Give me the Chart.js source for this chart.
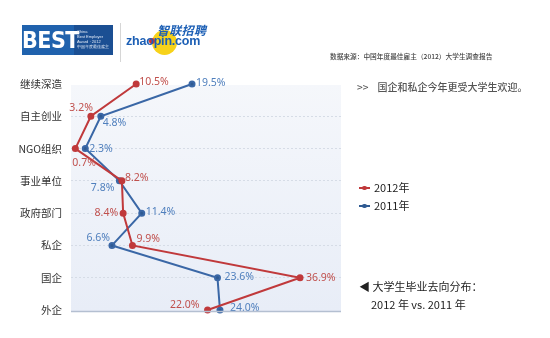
<!DOCTYPE html>
<html>
<head>
<meta charset="utf-8">
<script src="https://cdn.jsdelivr.net/npm/chart.js@4/dist/chart.umd.min.js"></script>
<style>
  body { margin: 0; background: #fff; }
  #wrap { position: relative; width: 550px; height: 338px; overflow: hidden; font-family: "Noto Sans CJK SC", "Noto Sans", sans-serif; }
  #gradChart { position: absolute; left: 0; top: 0; }
  .abs { position: absolute; white-space: nowrap; }
  .best { left: 22px; top: 25px; width: 91px; height: 30px; background: #1b4f93; }
  .best .word { position: absolute; left: 0; top: 0; width: 52px; height: 30px; background: #2062ad; color: #fff;
    font: bold 23px/30px "Liberation Sans Narrow", "DejaVu Sans Condensed", sans-serif; text-align: center; letter-spacing: -0.5px; }
  .best .small { position: absolute; left: 55px; top: 4px; color: #dfe8f5; font: 4px/5px "Liberation Sans", sans-serif; }
  .sep { left: 120px; top: 23px; width: 1px; height: 39px; background: #d6d6d6; }
  .dot { left: 152px; top: 30px; width: 25px; height: 25px; border-radius: 50%; background: #f7d21a; }
  .reddot { left: 149px; top: 38px; width: 6px; height: 6px; border-radius: 50%; background: #d9322c; }
  .zl { left: 157px; top: 23px; color: #1c5fb5; font: bold 12px/14px "Noto Sans CJK SC", sans-serif; font-style: italic; letter-spacing: 0.3px; }
  .zp { left: 126px; top: 34px; color: #1c5fb5; font: bold 12.5px/14px "Liberation Sans", sans-serif; letter-spacing: -0.2px; }
  .src { left: 330px; top: 52px; color: #444; font: 500 6.7px/9px "Noto Sans CJK SC", serif; }
  .note { left: 357px; top: 80px; color: #555; font: 500 10px/14px "Noto Sans CJK SC", sans-serif; }
  .leg { left: 359px; font: 11px/14px "Noto Sans CJK SC", sans-serif; color: #222; }
  .leg i { display: inline-block; position: relative; width: 11px; height: 1.5px; vertical-align: middle; margin-right: 4px; margin-top: -2px; }
  .leg i b { position: absolute; left: 3px; top: -1.5px; width: 4.5px; height: 4.5px; border-radius: 50%; background: inherit; }
  .cap { left: 359px; color: #222; font: 11px/14px "Noto Sans CJK SC", sans-serif; }
</style>
</head>
<body>
<div id="wrap">
  <canvas id="gradChart" width="550" height="338"></canvas>

  <div class="abs best">
    <div class="word">BEST</div>
    <div class="small">China<br>Best Employer<br>Award · 2012<br>中国年度最佳雇主</div>
  </div>
  <div class="abs sep"></div>
  <div class="abs dot"></div>
  <div class="abs reddot"></div>
  <div class="abs zl">智联招聘</div>
  <div class="abs zp">zhaopin.com</div>

  <div class="abs src">数据来源：中国年度最佳雇主（2012）大学生调查报告</div>
  <div class="abs note">&gt;&gt;&nbsp;&nbsp;&nbsp;&nbsp;国企和私企今年更受大学生欢迎。</div>

  <div class="abs leg" style="top:180px"><i style="background:#c0393b"><b></b></i>2012年</div>
  <div class="abs leg" style="top:198px"><i style="background:#2f5a92"><b></b></i>2011年</div>

  <div class="abs cap" style="top:279px">◀ 大学生毕业去向分布：</div>
  <div class="abs cap" style="top:297px; left:371px">2012 年 vs. 2011 年</div>
</div>

<script>
// graduate destinations, share in percent
const categories = ['继续深造', '自主创业', 'NGO组织', '事业单位', '政府部门', '私企', '国企', '外企'];
const values2012 = [10.5, 3.2, 0.7, 8.2, 8.4, 9.9, 36.9, 22.0];
const values2011 = [19.5, 4.8, 2.3, 7.8, 11.4, 6.6, 23.6, 24.0];

// where each value label sits relative to its point: [dx, dy, align]
const labelPos2012 = [[3, -2, 'left'], [2, -8, 'right'], [-3, 14, 'left'], [3, -3, 'left'],
                      [-5, 0, 'right'], [4, -6, 'left'], [6, 0, 'left'], [-8, -5, 'right']];
const labelPos2011 = [[4, -1, 'left'], [2, 7, 'left'], [4, 0, 'left'], [-5, 7, 'right'],
                      [4, -1, 'left'], [-2, -7, 'right'], [7, -1, 'left'], [10, -2, 'left']];

const plotBg = {
    id: 'plotBg',
    beforeDraw(chart) {
        const { ctx, chartArea: a } = chart;
        const g = ctx.createLinearGradient(0, a.top, 0, a.bottom);
        g.addColorStop(0, '#f5f7fb');
        g.addColorStop(1, '#e8edf7');
        ctx.save();
        ctx.fillStyle = g;
        ctx.fillRect(a.left, a.top + 1, a.right - a.left, a.bottom - a.top + 1);
        ctx.restore();
    },
    afterDraw(chart) {
        const { ctx, chartArea: a } = chart;
        ctx.save();
        ctx.strokeStyle = '#b4bfd1';
        ctx.lineWidth = 1.5;
        ctx.beginPath();
        ctx.moveTo(a.left, a.bottom + 1.5);
        ctx.lineTo(a.right, a.bottom + 1.5);
        ctx.stroke();
        ctx.restore();
    }
};

const valueLabels = {
    id: 'valueLabels',
    afterDatasetsDraw(chart) {
        const ctx = chart.ctx;
        ctx.save();
        ctx.font = '10.5px "Noto Sans", sans-serif';
        ctx.textBaseline = 'middle';
        chart.data.datasets.forEach((ds, i) => {
            const pos = i === 0 ? labelPos2012 : labelPos2011;
            ctx.fillStyle = ds.labelColor;
            chart.getDatasetMeta(i).data.forEach((pt, j) => {
                const [dx, dy, align] = pos[j];
                ctx.textAlign = align;
                ctx.fillText(ds.data[j].toFixed(1) + '%', pt.x + dx, pt.y + dy);
            });
        });
        ctx.restore();
    }
};

const ctx = document.getElementById('gradChart').getContext('2d');
const gradChart = new Chart(ctx, {
    type: 'line',
    data: {
        labels: categories,
        datasets: [
            { label: '2012年', data: values2012, borderColor: '#c0393b', backgroundColor: '#c0393b',
              labelColor: '#c0504d', borderWidth: 2, pointRadius: 2.5, tension: 0, clip: false },
            { label: '2011年', data: values2011, borderColor: '#3a67a6', backgroundColor: '#2f5a92',
              labelColor: '#4f7fbd', borderWidth: 2, pointRadius: 2.5, tension: 0, clip: false }
        ]
    },
    options: {
        indexAxis: 'y',
        responsive: false,
        animation: false,
        layout: { padding: { left: 0, right: 209, top: 84, bottom: 28 } },
        scales: {
            x: { type: 'linear', display: false, min: 0, max: 43.5 },
            y: {
                type: 'category',
                offset: false,
                afterFit(scale) { scale.width = 71; },
                border: { display: false, dash: [2, 2] },
                grid: {
                    drawTicks: false,
                    color: (c) => (c.index === 0 || c.index === categories.length - 1) ? 'rgba(0,0,0,0)' : '#d6dce6',
                    lineWidth: 1
                },
                ticks: {
                    padding: 9,
                    color: '#333',
                    font: { family: '"Noto Sans CJK SC", sans-serif', size: 10.5 }
                }
            }
        },
        plugins: {
            legend: { display: false },
            tooltip: { enabled: false }
        }
    },
    plugins: [plotBg, valueLabels]
});
</script>
</body>
</html>
